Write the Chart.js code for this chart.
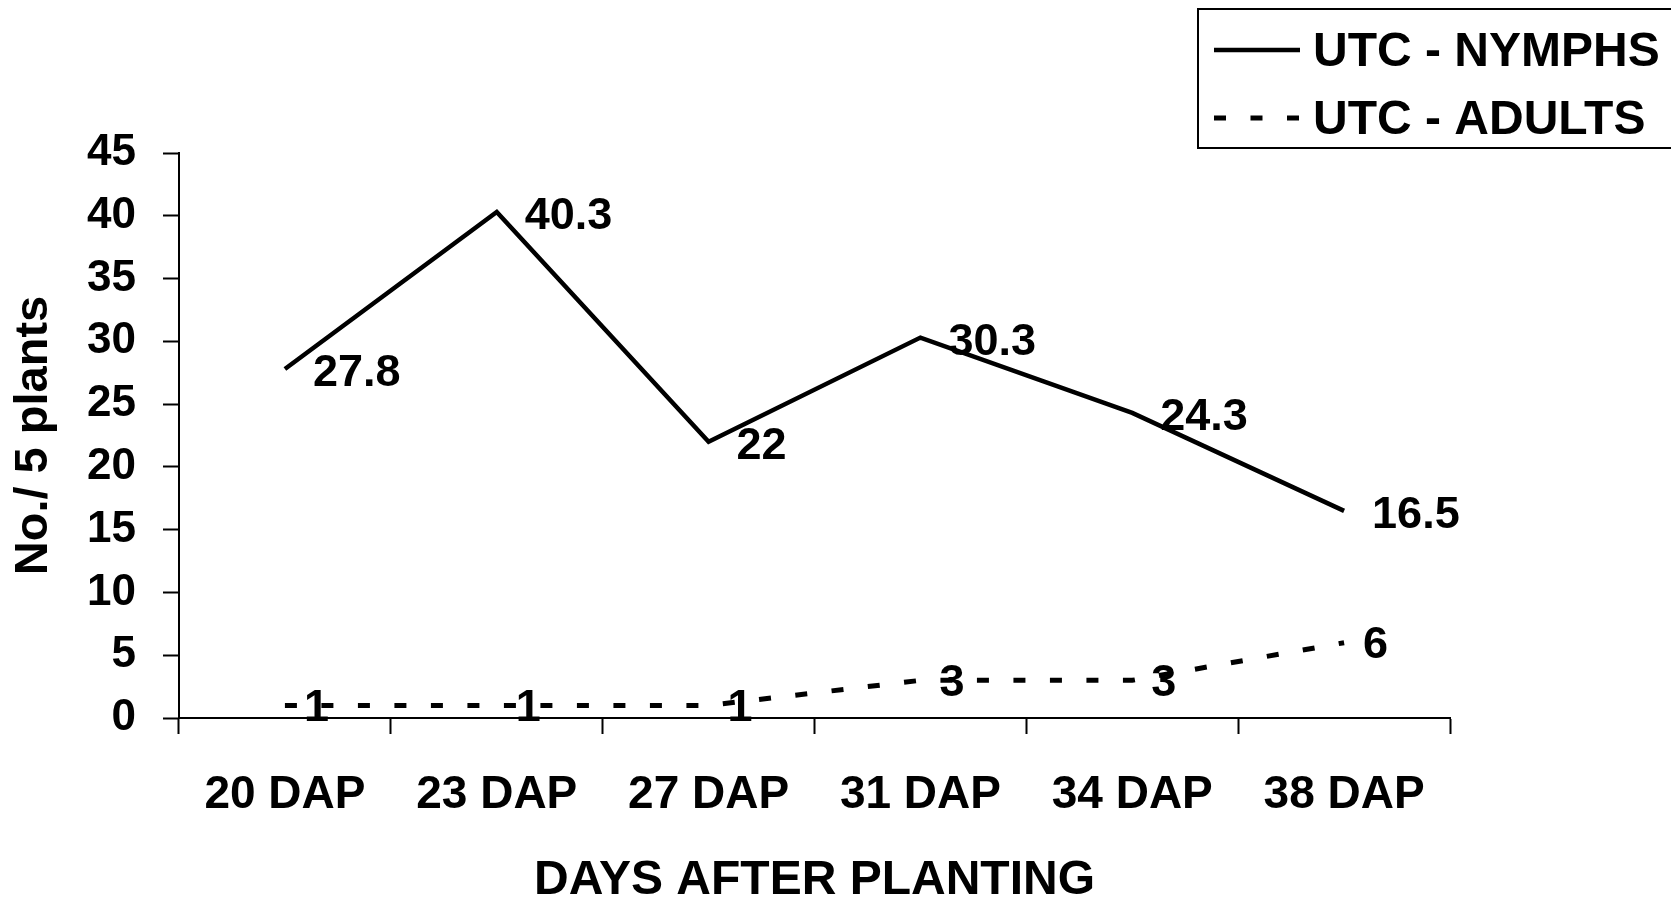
<!DOCTYPE html>
<html>
<head>
<meta charset="utf-8">
<title>UTC nymphs and adults per 5 plants</title>
<script src="https://cdn.jsdelivr.net/npm/chart.js@4/dist/chart.umd.min.js"></script>
<style>
  html, body { margin: 0; padding: 0; background: #ffffff; overflow: hidden; }
  canvas { display: block; }
</style>
</head>
<body>
<canvas id="c" width="1671" height="900"></canvas>
<script>
// Sampling dates (days after planting)
const categories = ['20 DAP', '23 DAP', '27 DAP', '31 DAP', '34 DAP', '38 DAP'];
// Counts per 5 plants, untreated control
const nymphs = [27.8, 40.3, 22, 30.3, 24.3, 16.5];
const adults = [1, 1, 1, 3, 3, 6];
const seriesNames = ['UTC - NYMPHS', 'UTC - ADULTS'];
// Value axis
const yMin = 0;
const yMax = 45;
const yStep = 5;

const FONT = "'Liberation Sans', Arial, Helvetica, sans-serif";

// Value labels written to the right of every point
const pointLabels = {
  id: 'pointLabels',
  afterDatasetsDraw(chart) {
    const ctx = chart.ctx;
    ctx.save();
    ctx.fillStyle = '#000';
    ctx.font = 'bold 45px ' + FONT;
    ctx.textAlign = 'left';
    ctx.textBaseline = 'middle';
    chart.data.datasets.forEach((ds, i) => {
      const meta = chart.getDatasetMeta(i);
      const dx = ds.labelDx || 24;
      const dy = ds.labelDy || 0;
      meta.data.forEach((el, j) => {
        ctx.fillText(String(ds.data[j]), el.x + dx, el.y + dy);
      });
    });
    ctx.restore();
  }
};

// Framed legend in the top-right corner, one row per series
const boxedLegend = {
  id: 'boxedLegend',
  afterDraw(chart, args, opts) {
    const ctx = chart.ctx;
    ctx.save();
    ctx.strokeStyle = '#000';
    ctx.lineWidth = 2;
    ctx.strokeRect(opts.left, opts.top, chart.width - opts.left + 20, opts.height);
    ctx.font = 'bold 48px ' + FONT;
    ctx.textBaseline = 'middle';
    ctx.textAlign = 'left';
    ctx.fillStyle = '#000';
    chart.data.datasets.forEach((ds, i) => {
      const y = opts.firstRow + i * opts.rowGap;
      ctx.beginPath();
      ctx.lineWidth = ds.borderWidth;
      ctx.lineCap = 'butt';
      ctx.setLineDash(ds.borderDash || []);
      ctx.moveTo(opts.sampleX, y);
      ctx.lineTo(opts.sampleX + opts.sampleW, y);
      ctx.stroke();
      ctx.setLineDash([]);
      ctx.fillText(ds.label, opts.textX, y + 3);
    });
    ctx.restore();
  }
};

new Chart(document.getElementById('c'), {
  type: 'line',
  data: {
    labels: categories,
    datasets: [
      {
        label: seriesNames[0],
        data: nymphs,
        borderColor: '#000',
        borderWidth: 4.5,
        pointRadius: 0,
        tension: 0,
        fill: false,
        labelDx: 28,
        labelDy: 5
      },
      {
        label: seriesNames[1],
        data: adults,
        borderColor: '#000',
        borderWidth: 5,
        borderDash: [12, 24.5],
        borderCapStyle: 'butt',
        pointRadius: 0,
        tension: 0,
        fill: false,
        labelDx: 19,
        labelDy: 3
      }
    ]
  },
  options: {
    responsive: false,
    animation: false,
    devicePixelRatio: 1,
    layout: { padding: { top: 153, right: 221, bottom: 0, left: 0 } },
    plugins: {
      legend: { display: false },
      tooltip: { enabled: false },
      boxedLegend: {
        left: 1198, top: 9, height: 139,
        firstRow: 50, rowGap: 68,
        sampleX: 1214, sampleW: 86, textX: 1313
      }
    },
    scales: {
      x: {
        offset: true,
        grid: {
          offset: true,
          drawOnChartArea: false,
          drawTicks: true,
          tickLength: 16,
          tickWidth: 2,
          tickColor: '#000'
        },
        border: { display: true, color: '#000', width: 2 },
        ticks: {
          color: '#000',
          padding: 34,
          maxRotation: 0,
          autoSkip: false,
          font: { family: FONT, size: 46, weight: 'bold' }
        },
        title: {
          display: true,
          text: 'DAYS AFTER PLANTING',
          color: '#000',
          padding: { top: 0, bottom: 0 },
          font: { family: FONT, size: 48, weight: 'bold', lineHeight: 0.82 }
        },
        afterFit(scale) { scale.height = 182; }
      },
      y: {
        min: yMin,
        max: yMax,
        grid: {
          drawOnChartArea: false,
          drawTicks: true,
          tickLength: 16,
          tickWidth: 2,
          tickColor: '#000'
        },
        border: { display: true, color: '#000', width: 2 },
        ticks: {
          stepSize: yStep,
          color: '#000',
          padding: 27,
          font: { family: FONT, size: 44, weight: 'bold' }
        },
        title: {
          display: true,
          text: 'No./ 5 plants',
          color: '#000',
          padding: { top: 6, bottom: 0 },
          font: { family: FONT, size: 47, weight: 'bold' }
        },
        afterFit(scale) { scale.width = 179; }
      }
    }
  },
  plugins: [pointLabels, boxedLegend]
});
</script>
</body>
</html>
